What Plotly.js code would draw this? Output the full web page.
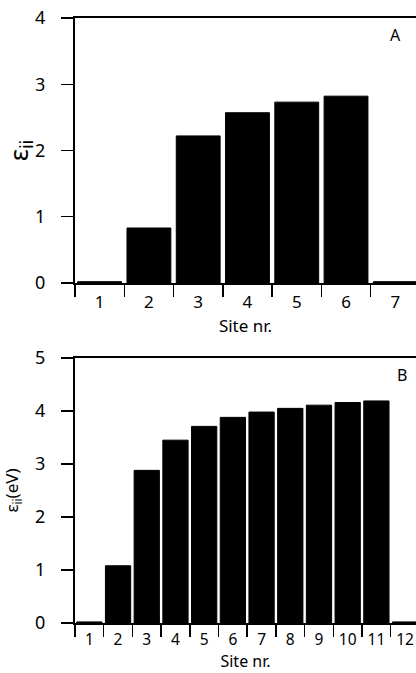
<!DOCTYPE html>
<html>
<head>
<meta charset="utf-8">
<script src="https://cdn.plot.ly/plotly-3.0.1.min.js"></script>
<style>html,body{margin:0;padding:0;background:#fff;}#chart{width:416px;height:673px;}</style>
</head>
<body>
<div id="chart"></div>
<script>
const sitesA = ['1','2','3','4','5','6','7'];
const valuesA = [0.02, 0.83, 2.22, 2.57, 2.73, 2.82, 0.02];
const sitesB = ['1','2','3','4','5','6','7','8','9','10','11','12'];
const valuesB = [0.02, 1.08, 2.88, 3.45, 3.71, 3.88, 3.98, 4.05, 4.11, 4.16, 4.19, 0.02];
const yTicksA = [0,1,2,3,4];
const yTicksB = [0,1,2,3,4,5];

const FONT = '"Noto Sans", "Open Sans", sans-serif';

const traces = [
  {type:'bar', x:sitesA, y:valuesA, xaxis:'x', yaxis:'y',
   marker:{color:'#000', line:{color:'#000', width:1}}, width:0.89, hoverinfo:'none'},
  {type:'bar', x:sitesB, y:valuesB, xaxis:'x2', yaxis:'y2',
   marker:{color:'#000', line:{color:'#000', width:1}}, width:0.88, hoverinfo:'none'}
];

const xCommon = {
  type:'category', tickson:'boundaries', ticks:'outside', ticklen:12, tickwidth:1.5,
  tickcolor:'#000', showline:true, linecolor:'#000', linewidth:2, mirror:true,
  showgrid:false, zeroline:false, tickfont:{size:17, color:'#000', family:FONT},
  tickangle:0, ticklabelstandoff:3, fixedrange:true
};
const yCommon = {
  ticks:'outside', ticklen:12, tickwidth:1.5, tickcolor:'#000', showline:true,
  linecolor:'#000', linewidth:2, mirror:false, showgrid:false, zeroline:false,
  tickfont:{size:18, color:'#000', family:FONT}, ticklabelstandoff:12, fixedrange:true
};

const layout = {
  width:416, height:673,
  margin:{l:75, r:0, t:18, b:50},
  paper_bgcolor:'#fff', plot_bgcolor:'#fff',
  showlegend:false, bargap:0.1,
  font:{family:FONT, color:'#000'},
  xaxis: Object.assign({}, xCommon, {anchor:'y', domain:[0,1], range:[-0.5, 6.42],
    title:{text:'Site nr.', font:{size:17, family:FONT, color:'#000'}, standoff:8}}),
  yaxis: Object.assign({}, yCommon, {anchor:'x', domain:[0.562,1], range:[0,4], tickvals:yTicksA,
    title:{text:'ε<sub>ii</sub>', font:{size:26, family:FONT, color:'#000'}, standoff:18}}),
  xaxis2: Object.assign({}, xCommon, {anchor:'y2', domain:[0,1], range:[-0.5, 11.38],
    tickfont:{size:15.5, color:'#000', family:FONT}, ticklabelstandoff:1,
    title:{text:'Site nr.', font:{size:16, family:FONT, color:'#000'}, standoff:5}}),
  yaxis2: Object.assign({}, yCommon, {anchor:'x2', domain:[0,0.438], range:[0,5], tickvals:yTicksB,
    title:{text:'ε<sub>ii</sub>(eV)', font:{size:17, family:FONT, color:'#000'}, standoff:16}}),
  annotations:[
    {text:'A', xref:'x domain', yref:'y domain', x:0.94, y:0.937, xanchor:'center', yanchor:'middle',
     showarrow:false, font:{size:16, family:FONT, color:'#000'}},
    {text:'B', xref:'x2 domain', yref:'y2 domain', x:0.96, y:0.937, xanchor:'center', yanchor:'middle',
     showarrow:false, font:{size:16, family:FONT, color:'#000'}}
  ]
};

Plotly.newPlot('chart', traces, layout, {displayModeBar:false, staticPlot:true});
</script>
</body>
</html>
